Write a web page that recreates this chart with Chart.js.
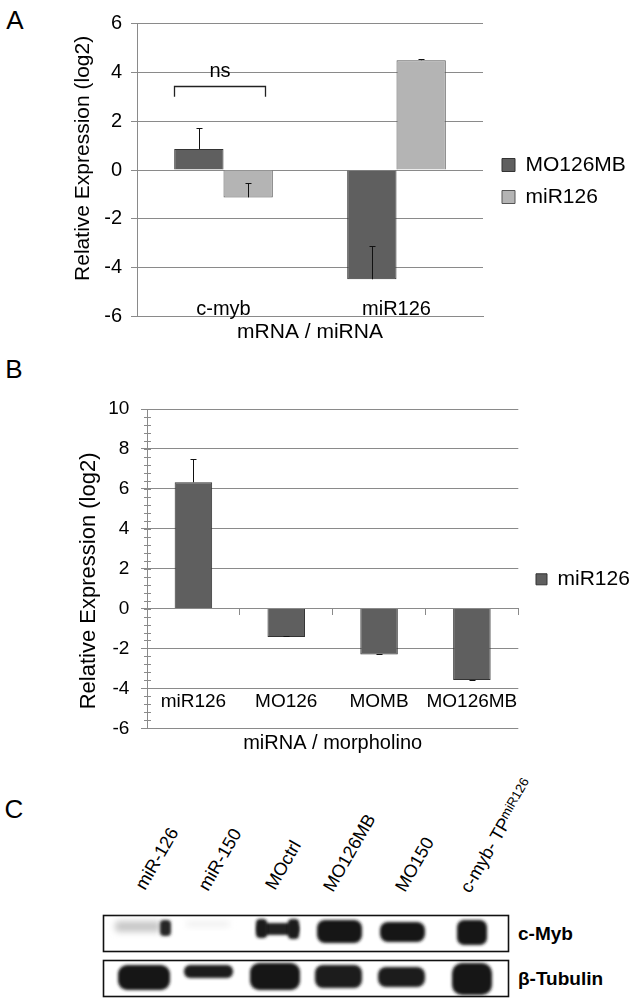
<!DOCTYPE html>
<html><head><meta charset="utf-8">
<script src="https://cdn.jsdelivr.net/npm/chart.js@4.4.1/dist/chart.umd.min.js"></script>
<style>
html,body{margin:0;padding:0;background:#fff;}
#page{position:relative;width:632px;height:1001px;overflow:hidden;font-family:"Liberation Sans",Arial,sans-serif;}
#blot{position:absolute;left:0;top:0;}
#cA{position:absolute;left:0;top:0;}
#cB{position:absolute;left:0;top:350px;}
</style></head><body>
<div id="page">
<svg id="blot" width="632" height="1001" xmlns="http://www.w3.org/2000/svg" font-family="Liberation Sans, Arial, sans-serif">
  <defs>
    <filter id="bl" x="-30%" y="-60%" width="160%" height="220%"><feGaussianBlur stdDeviation="1.4"/></filter>
    <filter id="bl2" x="-30%" y="-60%" width="160%" height="220%"><feGaussianBlur stdDeviation="3"/></filter>
  </defs>
  <text x="15" y="29" font-size="26" text-anchor="middle">A</text>
  <text x="14" y="378" font-size="26" text-anchor="middle">B</text>
  <text x="14" y="818" font-size="26" text-anchor="middle">C</text>
  <g id="lanes" font-size="18" fill="#000"></g>
  <rect x="103.5" y="915.5" width="405" height="36" fill="#fff" stroke="#111" stroke-width="1.6"/>
  <rect x="103.5" y="960.5" width="405" height="36" fill="#fff" stroke="#111" stroke-width="1.6"/>
  <g id="bands"></g>
  <text x="518" y="940" font-size="19" font-weight="bold">c-Myb</text>
  <text x="518" y="985" font-size="19" font-weight="bold">β-Tubulin</text>
</svg>
<canvas id="cA" width="632" height="350"></canvas>
<canvas id="cB" width="632" height="420"></canvas>
</div>
<script>
// ---------- data ----------
const categoriesA = ['c-myb', 'miR126'];
const seriesNamesA = ['MO126MB', 'miR126'];
const mo126mbA = [0.86, -4.47];
const mo126mbErrA = [0.86, 1.37];
const mir126A = [-1.12, 4.49];
const mir126ErrA = [0.59, 0.04];
const yRangeA = [-6, 6, 2];
const titleXA = 'mRNA / miRNA';
const titleY = 'Relative Expression (log2)';

const categoriesB = ['miR126', 'MO126', 'MOMB', 'MO126MB'];
const seriesNameB = 'miR126';
const mir126B = [6.33, -1.42, -2.30, -3.58];
const mir126ErrB = [1.15, 0.03, 0.03, 0.02];
const yRangeB = [-6, 10, 2];
const minorStepB = 0.4;
const titleXB = 'miRNA / morpholino';

const nsBracket = {label: 'ns', top: 3.44, bottom: 3.0, labelAt: 4.03};

const blotLanes = ['miR-126', 'miR-150', 'MOctrl', 'MO126MB', 'MO150', 'c-myb- TP'];
const blotLaneSup = ['', '', '', '', '', 'miR126'];

// ---------- styles ----------
const FONT = '"Liberation Sans", Arial, sans-serif';
Chart.defaults.font.family = FONT;
Chart.defaults.color = '#000';
const GRID = '#8a8a8a';
const DARK = '#5f5f5f', DARK_B = '#333333';
const LIGHT = '#b4b4b4', LIGHT_B = '#555555';

const errorBars = {
  id: 'errorBars',
  afterDatasetsDraw(chart) {
    const {ctx} = chart; const ys = chart.scales.y;
    chart.data.datasets.forEach((ds, i) => {
      if (!ds.errors) return;
      chart.getDatasetMeta(i).data.forEach((bar, j) => {
        const v = ds.data[j], e = ds.errors[j];
        const x = Math.round(bar.x) + 0.5;
        const y0 = ys.getPixelForValue(v), y1 = Math.round(ys.getPixelForValue(v + e)) + 0.5;
        ctx.save(); ctx.strokeStyle = '#111'; ctx.lineWidth = 1;
        ctx.beginPath(); ctx.moveTo(x, y0); ctx.lineTo(x, y1);
        ctx.moveTo(x - 3, y1); ctx.lineTo(x + 3, y1); ctx.stroke(); ctx.restore();
      });
    });
  }
};

const bracket = {
  id: 'bracket',
  afterDatasetsDraw(chart) {
    const {ctx} = chart; const ys = chart.scales.y;
    const b0 = chart.getDatasetMeta(0).data[0], b1 = chart.getDatasetMeta(1).data[0];
    const xl = Math.round(b0.x - b0.width / 2) + 0.5, xr = Math.round(b1.x + b1.width * 0.34) + 0.5;
    const yt = Math.round(ys.getPixelForValue(nsBracket.top)) + 0.5, yb = ys.getPixelForValue(nsBracket.bottom);
    ctx.save(); ctx.strokeStyle = '#222'; ctx.lineWidth = 1.3;
    ctx.beginPath(); ctx.moveTo(xl, yb); ctx.lineTo(xl, yt); ctx.lineTo(xr, yt); ctx.lineTo(xr, yb); ctx.stroke();
    ctx.fillStyle = '#000'; ctx.font = '20px ' + FONT; ctx.textAlign = 'center'; ctx.textBaseline = 'middle';
    ctx.fillText(nsBracket.label, (xl + xr) / 2, ys.getPixelForValue(nsBracket.labelAt));
    ctx.restore();
  }
};

const minorTicks = {
  id: 'minorTicks',
  afterDraw(chart) {
    const {ctx} = chart; const ys = chart.scales.y; const x0 = chart.chartArea.left;
    ctx.save(); ctx.strokeStyle = GRID; ctx.lineWidth = 1; ctx.beginPath();
    const n = Math.round((ys.max - ys.min) / minorStepB);
    for (let i = 0; i <= n; i++) {
      const py = Math.round(ys.getPixelForValue(ys.min + i * minorStepB)) + 0.5;
      ctx.moveTo(x0 - 3, py); ctx.lineTo(x0 + 4, py);
    }
    ctx.stroke(); ctx.restore();
  }
};

// invisible layout spacers (reserve room for legend offset / axis text)
const spacerR = (w) => ({type: 'linear', position: 'right', display: true,
  ticks: {display: false}, grid: {display: false}, border: {display: false},
  afterFit(s) { s.width = w; }});
const spacerB = (h) => ({type: 'linear', position: 'bottom', display: true,
  ticks: {display: false}, grid: {display: false}, border: {display: false},
  afterFit(s) { s.height = h; }});

// ---------- chart A ----------
new Chart(document.getElementById('cA'), {
  type: 'bar',
  data: {
    labels: categoriesA,
    datasets: [
      {label: seriesNamesA[0], data: mo126mbA, errors: mo126mbErrA, backgroundColor: DARK, borderColor: DARK_B, borderWidth: 1},
      {label: seriesNamesA[1], data: mir126A, errors: mir126ErrA, backgroundColor: LIGHT, borderColor: LIGHT_B, borderWidth: 1}
    ]
  },
  options: {
    responsive: false, animation: false,
    layout: {padding: {left: 71.1, top: 23.3, right: 0, bottom: 11.3}},
    datasets: {bar: {categoryPercentage: 0.57, barPercentage: 1.0}},
    plugins: {
      legend: {position: 'right', maxWidth: 141,
        labels: {font: {size: 21}, color: '#000', boxWidth: 13, boxHeight: 13, padding: 11}},
      tooltip: {enabled: false}
    },
    scales: {
      x: {
        position: {y: yRangeA[0]},
        grid: {display: false},
        border: {display: true, color: GRID, width: 1},
        ticks: {font: {size: 20}, color: '#000', padding: -27.7, maxRotation: 0, autoSkip: false},
        title: {display: true, text: titleXA, font: {size: 21}, color: '#000', padding: {top: 0, bottom: -6.6}},
        afterFit(s) { s.height = 22; }
      },
      y: {
        min: yRangeA[0], max: yRangeA[1],
        ticks: {stepSize: yRangeA[2], font: {size: 20}, color: '#000', padding: 9},
        grid: {color: GRID, tickLength: 6},
        border: {color: GRID},
        title: {display: true, text: '    ' + titleY, font: {size: 21}, color: '#000', padding: 0},
        afterFit(s) { s.width = 65.9; }
      },
      y2: spacerR(8),
      x2: spacerB(22)
    }
  },
  plugins: [errorBars, bracket]
});

// ---------- chart B ----------
new Chart(document.getElementById('cB'), {
  type: 'bar',
  data: {
    labels: categoriesB,
    datasets: [
      {label: seriesNameB, data: mir126B, errors: mir126ErrB, backgroundColor: DARK, borderColor: DARK_B, borderWidth: 1}
    ]
  },
  options: {
    responsive: false, animation: false,
    layout: {padding: {left: 75.8, top: 59, right: 0, bottom: 20.4}},
    datasets: {bar: {categoryPercentage: 1.0, barPercentage: 0.404}},
    plugins: {
      legend: {position: 'right', maxWidth: 107,
        labels: {font: {size: 21}, color: '#000', boxWidth: 11, boxHeight: 11, padding: 11}},
      tooltip: {enabled: false}
    },
    scales: {
      x: {
        position: {y: 0},
        grid: {display: true, drawOnChartArea: false, drawTicks: true, tickLength: 6, color: GRID, offset: true},
        border: {display: true, color: GRID},
        ticks: {font: {size: 19}, color: '#000', padding: 76, maxRotation: 0, autoSkip: false},
        title: {display: true, text: titleXB, font: {size: 20}, color: '#000', padding: {top: 0, bottom: -125.4}},
        afterFit(s) { s.height = 21.3; }
      },
      y: {
        min: yRangeB[0], max: yRangeB[1],
        ticks: {stepSize: yRangeB[2], font: {size: 19}, color: '#000', padding: 11.7},
        grid: {color: GRID, tickLength: 6},
        border: {color: GRID},
        title: {display: true, text: titleY + '    ', font: {size: 22}, color: '#000', padding: 0},
        afterFit(s) { s.width = 71.2; }
      },
      y2: spacerR(6.7),
      x2: spacerB(21.3)
    }
  },
  plugins: [errorBars, minorTicks]
});

// ---------- panel C (blot image approximation) ----------
const NS = 'http://www.w3.org/2000/svg';
const laneAnchors = [[145, 891], [208, 892], [275, 891], [333, 893], [405, 893], [470, 894]];
const lanesG = document.getElementById('lanes');
blotLanes.forEach((t, i) => {
  const [x, y] = laneAnchors[i];
  const el = document.createElementNS(NS, 'text');
  el.setAttribute('x', x); el.setAttribute('y', y);
  el.setAttribute('transform', `rotate(-60 ${x} ${y})`);
  el.textContent = t;
  if (blotLaneSup[i]) {
    const sp = document.createElementNS(NS, 'tspan');
    sp.setAttribute('font-size', '13'); sp.setAttribute('dy', '-5');
    sp.textContent = blotLaneSup[i];
    el.appendChild(sp);
  }
  lanesG.appendChild(el);
});
const bandShapes = [
  // c-Myb row
  [115, 921, 46, 11, '#c8c8c8', 'bl2', 4],
  [160, 920, 11, 16, '#262626', 'bl', 4],
  [186, 921, 44, 6, '#f0f0f0', 'bl2', 3],
  [257, 923, 42, 12, '#202020', 'bl', 5],
  [256, 919, 11, 19, '#1a1a1a', 'bl', 4],
  [288, 919, 11, 20, '#1a1a1a', 'bl', 4],
  [317, 920, 45, 23, '#141414', 'bl', 8],
  [380, 922, 45, 20, '#161616', 'bl', 8],
  [457, 920, 30, 25, '#181818', 'bl', 7],
  // beta-Tubulin row
  [118, 965, 52, 25, '#181818', 'bl', 9],
  [184, 965, 49, 13, '#1c1c1c', 'bl', 6],
  [250, 963, 50, 27, '#181818', 'bl', 9],
  [315, 965, 47, 23, '#1a1a1a', 'bl', 8],
  [378, 967, 47, 20, '#1c1c1c', 'bl', 8],
  [452, 963, 40, 32, '#181818', 'bl', 10]
];
const bandsG = document.getElementById('bands');
bandShapes.forEach(([x, y, w, h, c, f, r]) => {
  const el = document.createElementNS(NS, 'rect');
  el.setAttribute('x', x); el.setAttribute('y', y); el.setAttribute('width', w); el.setAttribute('height', h);
  el.setAttribute('rx', r); el.setAttribute('fill', c); el.setAttribute('filter', `url(#${f})`);
  bandsG.appendChild(el);
});
</script>
</body></html>
